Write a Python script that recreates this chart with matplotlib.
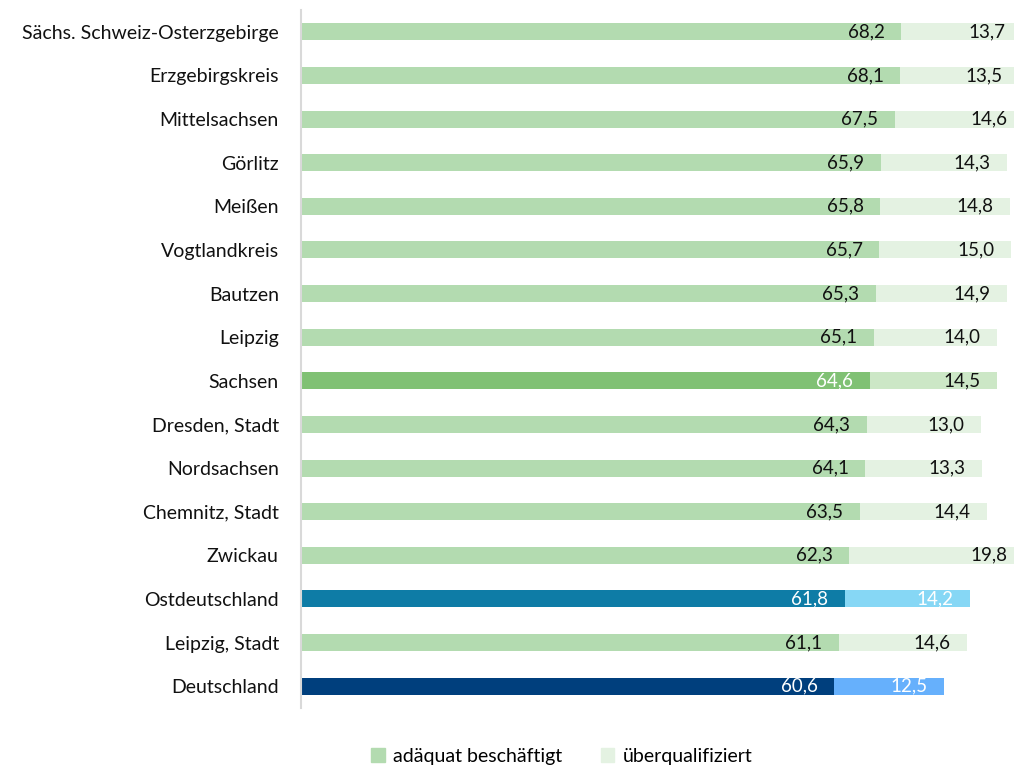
import matplotlib.pyplot as plt
from matplotlib.patches import Patch

plt.rcParams['font.family'] = ['Lato', 'DejaVu Sans']

regions = ['Sächs. Schweiz-Osterzgebirge', 'Erzgebirgskreis', 'Mittelsachsen', 'Görlitz',
           'Meißen', 'Vogtlandkreis', 'Bautzen', 'Leipzig', 'Sachsen', 'Dresden, Stadt',
           'Nordsachsen', 'Chemnitz, Stadt', 'Zwickau', 'Ostdeutschland', 'Leipzig, Stadt',
           'Deutschland']
adequate = [68.2, 68.1, 67.5, 65.9, 65.8, 65.7, 65.3, 65.1, 64.6, 64.3, 64.1, 63.5, 62.3, 61.8, 61.1, 60.6]
overqual = [13.7, 13.5, 14.6, 14.3, 14.8, 15.0, 14.9, 14.0, 14.5, 13.0, 13.3, 14.4, 19.8, 14.2, 14.6, 12.5]

# per-row styling: (adequate colour, overqualified colour, text colour 1, text colour 2)
default_style = ('#b3dbb0', '#e4f2e2', '#111111', '#111111')
special = {
    'Sachsen': ('#80c174', '#cce7c6', 'white', '#111111'),
    'Ostdeutschland': ('#0e7ca6', '#86d7f5', 'white', 'white'),
    'Deutschland': ('#003f7d', '#66b0fc', 'white', 'white'),
}

XMAX = 81.0

fig = plt.figure(figsize=(10.14, 7.67), dpi=100)
ax = fig.add_axes([301 / 1014, 1 - 708 / 767, 713 / 1014, 698 / 767])

for i, (name, a, o) in enumerate(zip(regions, adequate, overqual)):
    c1, c2, t1, t2 = special.get(name, default_style)
    ax.barh(i, a, height=0.39, color=c1)
    ax.barh(i, o, left=a, height=0.39, color=c2)
    ax.annotate(f'{a:.1f}'.replace('.', ','), (a, i), xytext=(-12, 0), textcoords='offset points',
                ha='right', va='center', fontsize=13.5, color=t1)
    ax.annotate(f'{o:.1f}'.replace('.', ','), (a + o, i), xytext=(-12, 0), textcoords='offset points',
                ha='right', va='center', fontsize=13.5, color=t2, annotation_clip=False)

ax.set_xlim(0, XMAX)
ax.set_ylim(len(regions) - 0.5, -0.5)
ax.set_yticks(range(len(regions)))
ax.set_yticklabels(regions, fontsize=14, color='#111111')
ax.tick_params(axis='y', length=0, pad=16)
ax.set_xticks([])
for s in ['top', 'right', 'bottom']:
    ax.spines[s].set_visible(False)
ax.spines['left'].set_color('#d9d9d9')
ax.spines['left'].set_linewidth(1.5)

handles = [Patch(color='#b3dbb0', label='adäquat beschäftigt'),
           Patch(color='#e4f2e2', label='überqualifiziert')]
fig.legend(handles=handles, loc='lower center', bbox_to_anchor=(0.554, -0.02), ncol=2,
           frameon=False, fontsize=14, handlelength=0.7, handleheight=0.7,
           handletextpad=0.4, columnspacing=2.0)

fig.savefig('out.png', dpi=100)
